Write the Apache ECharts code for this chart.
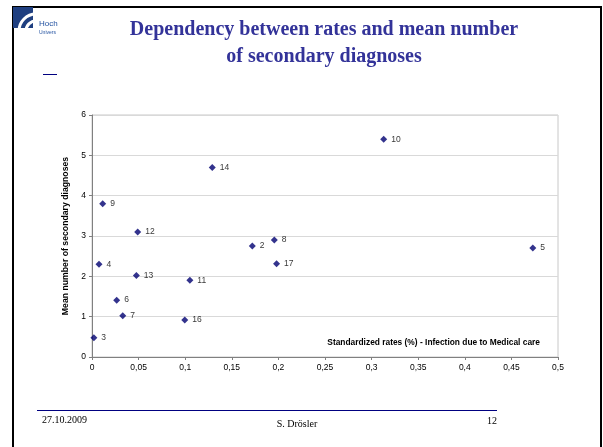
<!DOCTYPE html>
<html><head><meta charset="utf-8">
<script src="https://cdn.jsdelivr.net/npm/echarts@6/dist/echarts.min.js"></script>
<style>html,body{margin:0;padding:0;background:#fff}#c{width:603px;height:447px}</style>
</head><body><div id="c"></div>
<script>
const hospitalIds = ['3','9','4','12','13','6','7','16','11','14','2','8','17','10','5'];
const rates = [0.002,0.0115,0.0075,0.049,0.0476,0.0265,0.033,0.0995,0.105,0.129,0.172,0.1956,0.198,0.313,0.473];
const meanDiagnoses = [0.48,3.8,2.3,3.1,2.02,1.41,1.02,0.92,1.9,4.7,2.75,2.9,2.31,5.4,2.7];
const xTicks = ['0','0,05','0,1','0,15','0,2','0,25','0,3','0,35','0,4','0,45','0,5'];

const data = rates.map((r,i)=>[r, meanDiagnoses[i], hospitalIds[i]]);
const chart = echarts.init(document.getElementById('c'));
const serif = 'Liberation Serif, Times New Roman, serif';
const sans = 'Liberation Sans, Arial, sans-serif';
chart.setOption({
  animation:false,
  grid:{left:92,right:45,top:115,bottom:90,show:true,borderColor:'#c8c8c8',borderWidth:1},
  xAxis:{type:'value',min:0,max:0.5,interval:0.05,
    axisLine:{show:true,onZero:false,lineStyle:{color:'#808080'}},
    axisTick:{show:true,length:3,lineStyle:{color:'#808080'}},
    splitLine:{show:false},
    axisLabel:{color:'#000',fontSize:8.5,fontFamily:sans,margin:6,
      formatter:v=>xTicks[Math.round(v/0.05)]}},
  yAxis:{type:'value',min:0,max:6,interval:1,
    name:'Mean number of secondary diagnoses',nameLocation:'middle',nameGap:19,
    nameTextStyle:{fontSize:8.7,fontWeight:'bold',fontFamily:sans,color:'#000'},
    axisLine:{show:true,lineStyle:{color:'#808080'}},
    axisTick:{show:true,length:3,lineStyle:{color:'#808080'}},
    splitLine:{show:true,lineStyle:{color:'#d9d9d9'}},
    axisLabel:{color:'#000',fontSize:8.5,fontFamily:sans,margin:6}},
  series:[{type:'scatter',symbol:'diamond',symbolSize:7,
    itemStyle:{color:'#000070'},
    data:data,
    label:{show:true,position:'right',distance:4,formatter:p=>p.value[2],
      fontSize:8.5,fontFamily:sans,color:'#000'}}],
  graphic:[
    {type:'rect',shape:{x:13,y:7,width:588,height:445},style:{fill:'none',stroke:'#000',lineWidth:2},silent:true},
    {type:'rect',shape:{x:13,y:7,width:20,height:21},style:{fill:'#1f3f80'}},
    {type:'arc',shape:{cx:36,cy:31,r:10,startAngle:Math.PI,endAngle:Math.PI*1.5},style:{stroke:'#fff',lineWidth:3,fill:'none'}},
    {type:'arc',shape:{cx:36,cy:31,r:17,startAngle:Math.PI,endAngle:Math.PI*1.5},style:{stroke:'#fff',lineWidth:3,fill:'none'}},
    {type:'text',left:39,top:20,style:{text:'Hoch',fontSize:8,fontFamily:sans,fill:'#1f4f9f'}},
    {type:'text',left:39,top:30,style:{text:'Univers',fontSize:5,fontFamily:sans,fill:'#1f4f9f'}},
    {type:'line',shape:{x1:43,y1:74.5,x2:57,y2:74.5},style:{stroke:'#000080',lineWidth:1}},
    {type:'text',x:324,y:30,style:{text:'Dependency between rates and mean number',fontSize:20,fontWeight:'bold',fontFamily:serif,fill:'#333399',align:'center',verticalAlign:'middle'}},
    {type:'text',x:324,y:57,style:{text:'of secondary diagnoses',fontSize:20,fontWeight:'bold',fontFamily:serif,fill:'#333399',align:'center',verticalAlign:'middle'}},
    {type:'text',x:540,y:343,style:{text:'Standardized rates (%) - Infection due to Medical care',fontSize:8.4,fontWeight:'bold',fontFamily:sans,fill:'#000',align:'right',verticalAlign:'middle'}},
    {type:'line',shape:{x1:37,y1:410.5,x2:497,y2:410.5},style:{stroke:'#000080',lineWidth:1}},
    {type:'text',x:42,y:420,style:{text:'27.10.2009',fontSize:10,fontFamily:serif,fill:'#000',verticalAlign:'middle'}},
    {type:'text',x:297,y:424,style:{text:'S. Drösler',fontSize:10,fontFamily:serif,fill:'#000',align:'center',verticalAlign:'middle'}},
    {type:'text',x:497,y:421,style:{text:'12',fontSize:10,fontFamily:serif,fill:'#000',align:'right',verticalAlign:'middle'}}
  ]
});
</script></body></html>
